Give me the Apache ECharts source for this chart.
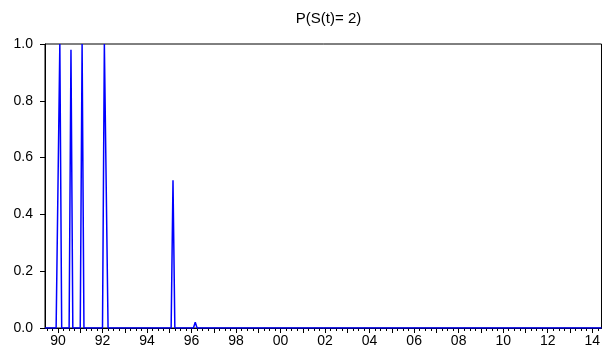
<!DOCTYPE html>
<html>
<head>
<meta charset="utf-8">
<script src="https://cdn.jsdelivr.net/npm/echarts@6/dist/echarts.min.js"></script>
<style>
  html, body { margin: 0; padding: 0; background: #fff; }
  #echarts-container { width: 603px; height: 351px; }
</style>
</head>
<body>
<div id="echarts-container"></div>
<script>
// monthly sample, 1989M06 .. 2014M06
var firstYear = 1989, firstMonth = 6;
var probS2 = [
  /*1989*/ 0, 0, 0, 0, 0, 0, 0,
  /*1990*/ 0, 1.0, 0, 0, 0, 0, 0, 0.98, 0, 0, 0, 0,
  /*1991*/ 0, 1.0, 0, 0, 0, 0, 0, 0, 0, 0, 0, 0,
  /*1992*/ 0, 1.0, 1.0, 0, 0, 0, 0, 0, 0, 0, 0, 0,
  /*1993*/ 0, 0, 0, 0, 0, 0, 0, 0, 0, 0, 0, 0,
  /*1994*/ 0, 0, 0, 0, 0, 0, 0, 0, 0, 0, 0, 0,
  /*1995*/ 0, 0, 0.52, 0, 0, 0, 0, 0, 0, 0, 0, 0,
  /*1996*/ 0, 0, 0.02, 0, 0, 0, 0, 0, 0, 0, 0, 0,
  /*1997*/ 0, 0, 0, 0, 0, 0, 0, 0, 0, 0, 0, 0,
  /*1998*/ 0, 0, 0, 0, 0, 0, 0, 0, 0, 0, 0, 0,
  /*1999*/ 0, 0, 0, 0, 0, 0, 0, 0, 0, 0, 0, 0,
  /*2000*/ 0, 0, 0, 0, 0, 0, 0, 0, 0, 0, 0, 0,
  /*2001*/ 0, 0, 0, 0, 0, 0, 0, 0, 0, 0, 0, 0,
  /*2002*/ 0, 0, 0, 0, 0, 0, 0, 0, 0, 0, 0, 0,
  /*2003*/ 0, 0, 0, 0, 0, 0, 0, 0, 0, 0, 0, 0,
  /*2004*/ 0, 0, 0, 0, 0, 0, 0, 0, 0, 0, 0, 0,
  /*2005*/ 0, 0, 0, 0, 0, 0, 0, 0, 0, 0, 0, 0,
  /*2006*/ 0, 0, 0, 0, 0, 0, 0, 0, 0, 0, 0, 0,
  /*2007*/ 0, 0, 0, 0, 0, 0, 0, 0, 0, 0, 0, 0,
  /*2008*/ 0, 0, 0, 0, 0, 0, 0, 0, 0, 0, 0, 0,
  /*2009*/ 0, 0, 0, 0, 0, 0, 0, 0, 0, 0, 0, 0,
  /*2010*/ 0, 0, 0, 0, 0, 0, 0, 0, 0, 0, 0, 0,
  /*2011*/ 0, 0, 0, 0, 0, 0, 0, 0, 0, 0, 0, 0,
  /*2012*/ 0, 0, 0, 0, 0, 0, 0, 0, 0, 0, 0, 0,
  /*2013*/ 0, 0, 0, 0, 0, 0, 0, 0, 0, 0, 0, 0,
  /*2014*/ 0, 0, 0, 0, 0, 0
];

var months = [];
for (var i = 0; i < probS2.length; i++) {
  var m = firstMonth - 1 + i;
  var y = firstYear + Math.floor(m / 12);
  var mm = (m % 12) + 1;
  months.push(y + "M" + (mm < 10 ? "0" + mm : mm));
}
function monthOf(v) { return parseInt(v.slice(5), 10); }
function yearOf(v) { return parseInt(v.slice(0, 4), 10); }

var FONT = "Liberation Sans, Arial, sans-serif";
var dom = document.getElementById("echarts-container");
var myChart = echarts.init(dom);

var option = {
  animation: false,
  title: {
    text: "P(S(t)= 2)",
    left: 323.5,
    textAlign: "center",
    top: 6,
    textStyle: { fontSize: 15, fontWeight: "normal", color: "#000", fontFamily: FONT }
  },
  grid: {
    left: 45, right: 1, top: 44, bottom: 23,
    show: true, borderColor: "#000", borderWidth: 1, backgroundColor: "#fff"
  },
  xAxis: [
    {
      // quarterly minor ticks
      type: "category",
      data: months,
      position: "bottom",
      boundaryGap: false,
      axisLine: { show: true, lineStyle: { color: "#000", width: 1 } },
      axisTick: {
        show: true, length: 3, lineStyle: { color: "#000" },
        interval: function (idx, v) { return (monthOf(v) - 1) % 3 === 0; }
      },
      axisLabel: { show: false },
      splitLine: { show: false }
    },
    {
      // yearly major ticks + labels every 2 years
      type: "category",
      data: months,
      position: "bottom",
      offset: 0,
      boundaryGap: false,
      axisLine: { show: false },
      axisTick: {
        show: true, length: 5, lineStyle: { color: "#000" },
        interval: function (idx, v) { return monthOf(v) === 1; }
      },
      axisLabel: {
        show: true, margin: 6, color: "#000", fontSize: 14, fontFamily: FONT,
        interval: function (idx, v) { return monthOf(v) === 1 && yearOf(v) % 2 === 0; },
        formatter: function (v) { return v.slice(2, 4); }
      },
      splitLine: { show: false }
    }
  ],
  yAxis: {
    type: "value",
    min: 0, max: 1, interval: 0.2,
    axisLine: { show: true, lineStyle: { color: "#000", width: 1 } },
    axisTick: { show: true, length: 5, lineStyle: { color: "#000" } },
    axisLabel: {
      color: "#000", fontSize: 14, fontFamily: FONT, margin: 12,
      formatter: function (v) { return v.toFixed(1); }
    },
    splitLine: { show: false }
  },
  series: [
    {
      type: "line",
      xAxisIndex: 0,
      data: probS2,
      showSymbol: false,
      symbol: "none",
      lineStyle: { color: "#0000ff", width: 1.5 },
      z: 5
    }
  ]
};

myChart.setOption(option);
window.addEventListener("resize", myChart.resize);
</script>
</body>
</html>
